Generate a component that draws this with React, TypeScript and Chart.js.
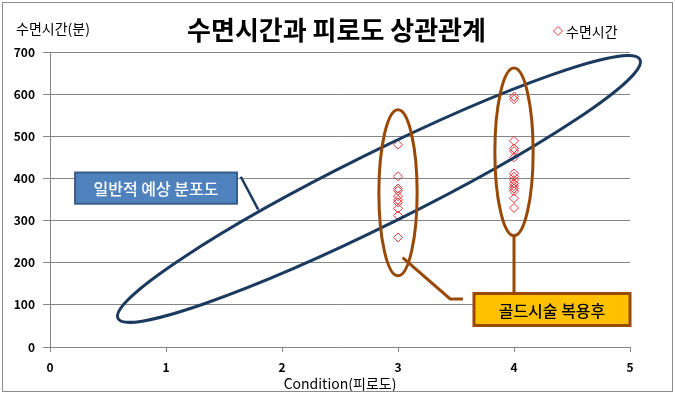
import React, { useEffect, useRef } from 'react';
import { Chart, registerables } from 'chart.js';

Chart.register(...registerables);

const chartTitle = '수면시간과 피로도 상관관계';
const seriesName = '수면시간';
const yAxisTitle = '수면시간(분)';
const xAxisTitle = 'Condition(피로도)';
const blueCalloutText = '일반적 예상 분포도';
const goldCalloutText = '골드시술 복용후';

const condition3Minutes = [480, 405, 376, 371, 358, 349, 343, 329, 312, 260];
const condition4Minutes = [594, 588, 489, 471, 465, 450, 412, 404, 396, 388, 382, 376, 370, 353, 330];

const xMin = 0;
const xMax = 5;
const xStep = 1;
const yMin = 0;
const yMax = 700;
const yStep = 100;

const FONT = '"Noto Sans CJK KR", "Noto Sans", sans-serif';
const NAVY = '#1B3A5F';
const BROWN = '#984807';
const POINT_RED = '#E8373C';

// annotation anchors in data space
const bigEllipseTips = [
  [0.586, 68],
  [5.086, 682],
];
const bigEllipseHalfWidthPx = 36;
const groupEllipses = [
  { x: 3, y: 366, halfW: 0.165, halfH: 197 },
  { x: 4, y: 463, halfW: 0.165, halfH: 199 },
];

const annotationPlugin = {
  id: 'annotations',
  beforeDraw(chart: any) {
    const { ctx, width, height } = chart;
    ctx.save();
    ctx.fillStyle = '#ffffff';
    ctx.fillRect(0, 0, width, height);
    ctx.restore();
  },
  afterDatasetsDraw(chart: any) {
    const { ctx } = chart;
    const xs = chart.scales.x;
    const ys = chart.scales.y;
    const px = (v: number) => xs.getPixelForValue(v);
    const py = (v: number) => ys.getPixelForValue(v);
    ctx.save();

    // big navy ellipse
    const x1 = px(bigEllipseTips[0][0]);
    const y1 = py(bigEllipseTips[0][1]);
    const x2 = px(bigEllipseTips[1][0]);
    const y2 = py(bigEllipseTips[1][1]);
    const cx = (x1 + x2) / 2;
    const cy = (y1 + y2) / 2;
    const a = Math.hypot(x2 - x1, y2 - y1) / 2;
    const ang = Math.atan2(y2 - y1, x2 - x1);
    ctx.beginPath();
    ctx.ellipse(cx, cy, a, bigEllipseHalfWidthPx, ang, 0, Math.PI * 2);
    ctx.strokeStyle = NAVY;
    ctx.lineWidth = 3;
    ctx.stroke();

    // brown ellipses
    groupEllipses.forEach((e) => {
      const ex = px(e.x);
      const ey = py(e.y);
      const rw = Math.abs(px(e.x + e.halfW) - ex);
      const rh = Math.abs(py(e.y + e.halfH) - ey);
      ctx.beginPath();
      ctx.ellipse(ex, ey, rw, rh, 0, 0, Math.PI * 2);
      ctx.strokeStyle = BROWN;
      ctx.lineWidth = 3;
      ctx.stroke();
    });

    // blue callout pointer
    ctx.beginPath();
    ctx.moveTo(px(1.645), py(404));
    ctx.lineTo(px(1.795), py(326));
    ctx.strokeStyle = NAVY;
    ctx.lineWidth = 2.5;
    ctx.stroke();

    // blue callout box
    const bx = px(0.216);
    const by = py(414);
    const bw = px(1.612) - bx;
    const bh = py(340) - by;
    ctx.fillStyle = '#4F81BD';
    ctx.fillRect(bx, by, bw, bh);
    ctx.strokeStyle = '#385D8A';
    ctx.lineWidth = 2;
    ctx.strokeRect(bx, by, bw, bh);
    ctx.fillStyle = '#ffffff';
    ctx.font = `500 16px ${FONT}`;
    ctx.textAlign = 'center';
    ctx.textBaseline = 'middle';
    ctx.fillText(blueCalloutText, bx + bw / 2, by + bh / 2 + 1);

    // gold callout connectors
    ctx.beginPath();
    ctx.moveTo(px(3.04), py(212));
    ctx.lineTo(px(3.45), py(114));
    ctx.lineTo(px(3.56), py(114));
    ctx.moveTo(px(4), py(263));
    ctx.lineTo(px(4), py(126));
    ctx.strokeStyle = BROWN;
    ctx.lineWidth = 3;
    ctx.stroke();

    // gold callout box
    const gx = px(3.655);
    const gy = py(127);
    const gw = px(5.0) - gx;
    const gh = py(51) - gy;
    ctx.fillStyle = '#FFC000';
    ctx.fillRect(gx, gy, gw, gh);
    ctx.strokeStyle = BROWN;
    ctx.lineWidth = 3;
    ctx.strokeRect(gx, gy, gw, gh);
    ctx.fillStyle = '#000000';
    ctx.font = `500 16px ${FONT}`;
    ctx.fillText(goldCalloutText, gx + gw / 2, gy + gh / 2 + 1);

    ctx.restore();
  },
  afterDraw(chart: any) {
    const { ctx, width, height } = chart;
    ctx.save();
    // frame
    ctx.strokeStyle = '#8c8c8c';
    ctx.lineWidth = 1;
    ctx.strokeRect(2.5, 2.5, width - 5, height - 6);

    // title
    ctx.fillStyle = '#000000';
    ctx.textAlign = 'center';
    ctx.textBaseline = 'middle';
    ctx.font = `bold 26px ${FONT}`;
    ctx.fillText(chartTitle, width / 2 - 1, 30);

    // y axis title
    ctx.textAlign = 'left';
    ctx.font = `14px ${FONT}`;
    ctx.fillText(yAxisTitle, 16, 29);

    // legend
    const lx = 558;
    const ly = 31;
    ctx.beginPath();
    ctx.moveTo(lx, ly - 4.5);
    ctx.lineTo(lx + 4.5, ly);
    ctx.lineTo(lx, ly + 4.5);
    ctx.lineTo(lx - 4.5, ly);
    ctx.closePath();
    ctx.strokeStyle = POINT_RED;
    ctx.lineWidth = 1;
    ctx.stroke();
    ctx.fillStyle = '#000000';
    ctx.font = `14px ${FONT}`;
    ctx.fillText(seriesName, 566, 32);
    ctx.restore();
  },
};

export default function App() {
  const canvasRef = useRef<HTMLCanvasElement | null>(null);

  useEffect(() => {
    if (!canvasRef.current) return;
    const points = [
      ...condition3Minutes.map((v) => ({ x: 3, y: v })),
      ...condition4Minutes.map((v) => ({ x: 4, y: v })),
    ];
    const chart = new Chart(canvasRef.current, {
      type: 'scatter',
      data: {
        datasets: [
          {
            label: seriesName,
            data: points,
            pointStyle: 'rectRot',
            pointRadius: 4.5,
            pointHoverRadius: 4.5,
            borderColor: POINT_RED,
            backgroundColor: 'rgba(0,0,0,0)',
            borderWidth: 1,
          },
        ],
      },
      options: {
        responsive: false,
        animation: false,
        events: [],
        layout: { padding: { left: 0, right: 45, top: 52, bottom: 0 } },
        plugins: {
          legend: { display: false },
          title: { display: false },
          tooltip: { enabled: false },
        },
        scales: {
          x: {
            type: 'linear',
            min: xMin,
            max: xMax,
            afterFit: (s: any) => {
              s.height = 48;
            },
            ticks: {
              stepSize: xStep,
              color: '#000',
              font: { family: FONT, size: 12, weight: 'bold' },
              padding: 8,
            },
            grid: {
              drawOnChartArea: false,
              drawTicks: true,
              tickLength: 5,
              color: '#868686',
            },
            border: { color: '#868686' },
            title: {
              display: true,
              text: xAxisTitle,
              color: '#000',
              font: { family: FONT, size: 14 },
              padding: { top: 0, bottom: 3 },
            },
          },
          y: {
            type: 'linear',
            min: yMin,
            max: yMax,
            afterFit: (s: any) => {
              s.width = 50;
            },
            ticks: {
              stepSize: yStep,
              color: '#000',
              font: { family: FONT, size: 12, weight: 'bold' },
              padding: 8,
            },
            grid: {
              color: '#868686',
              tickLength: 7,
            },
            border: { color: '#868686' },
          },
        },
      },
      plugins: [annotationPlugin],
    });
    return () => chart.destroy();
  }, []);

  return (
    <div style={{ position: 'fixed', left: 0, top: 0, width: 675, height: 395 }}>
      <canvas ref={canvasRef} width={675} height={395} style={{ display: 'block' }} />
    </div>
  );
}
